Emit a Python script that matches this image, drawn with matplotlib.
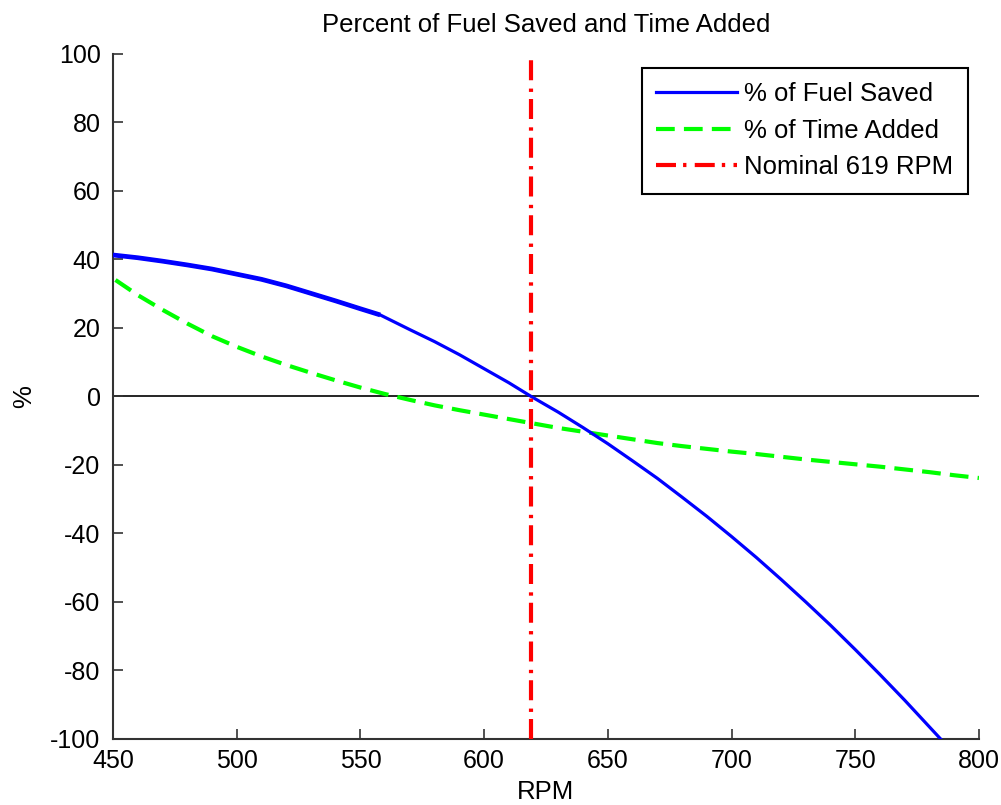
import numpy as np
import matplotlib
matplotlib.use("Agg")
import matplotlib.pyplot as plt

plt.rcParams['font.family'] = ['Liberation Sans', 'DejaVu Sans']
plt.rcParams['axes.unicode_minus'] = False

# RPM vs % of fuel saved
rpm_fuel = [450, 460, 470, 480, 490, 500, 510, 520, 530, 540, 550, 558,
            570, 580, 590, 600, 610, 619, 630, 640, 650, 660, 670, 680,
            690, 700, 710, 720, 730, 740, 750, 760, 770, 784.5]
fuel_saved = [41.3, 40.5, 39.5, 38.4, 37.2, 35.7, 34.2, 32.3, 30.1, 27.9, 25.6, 23.8,
              19.5, 16.0, 12.2, 8.1, 4.0, 0.0, -4.6, -9.1, -13.8, -18.8, -23.9, -29.4,
              -35.0, -40.9, -47.0, -53.4, -60.0, -66.8, -73.9, -81.2, -88.7, -100.0]

# RPM vs % of time added
rpm_time = [451, 460, 470, 480, 490, 500, 510, 520, 530, 540, 550, 560, 570,
            580, 590, 600, 610, 620, 630, 640, 650, 660, 670, 680, 690, 700,
            710, 720, 730, 740, 750, 760, 770, 780, 790, 800]
time_added = [34.0, 29.6, 25.3, 21.3, 17.6, 14.5, 11.7, 9.2, 6.9, 4.7, 2.6, 0.7, -1.0,
              -2.6, -4.0, -5.3, -6.6, -7.9, -9.2, -10.3, -11.4, -12.5, -13.6, -14.5, -15.3, -16.1,
              -16.8, -17.6, -18.4, -19.1, -19.8, -20.5, -21.3, -22.1, -23.0, -23.8]

nominal_rpm = 619

fig = plt.figure(figsize=(10.01, 8.05), dpi=100)
ax = fig.add_axes([0.1129, 0.082, 0.8651, 0.851])

ax.plot([450, 800], [0, 0], color='black', lw=1.2, zorder=1)
ax.plot(rpm_fuel, fuel_saved, color='#0000ff', lw=2.3, label='% of Fuel Saved', zorder=3)
# low-RPM branch is drawn heavier
k = rpm_fuel.index(558) + 1
ax.plot(rpm_fuel[:k], fuel_saved[:k], color='#0000ff', lw=3.4, zorder=3,
        solid_capstyle='butt')
ax.plot(rpm_time, time_added, color='#00ff00', lw=3, ls=(0, (4.5, 2.2)),
        label='% of Time Added', zorder=2)
ax.plot([nominal_rpm, nominal_rpm], [-100, 100], color='#ff0000', lw=3,
        ls=(0, (4.8, 1.7, 0.8, 2.0)), label='Nominal 619 RPM', zorder=4)

ax.set_xlim(450, 800)
ax.set_ylim(-100, 100)
ax.set_xticks(np.arange(450, 801, 50))
ax.set_yticks(np.arange(-100, 101, 20))
ax.tick_params(direction='in', length=7, width=1.2, labelsize=18, color='#333333')
ax.tick_params(axis='x', pad=7)
ax.tick_params(axis='y', pad=9)
ax.spines['top'].set_visible(False)
ax.spines['right'].set_visible(False)
for s in ('left', 'bottom'):
    ax.spines[s].set_linewidth(1.5)
    ax.spines[s].set_color('#333333')

ax.set_title('Percent of Fuel Saved and Time Added', fontsize=18.5, pad=16)
ax.set_xlabel('RPM', fontsize=18.5, labelpad=5)
ax.set_ylabel('%', fontsize=18.5, labelpad=10)

leg = ax.legend(loc='upper right', bbox_to_anchor=(0.987, 0.98), borderaxespad=0,
                fontsize=18.5, fancybox=False, framealpha=1, edgecolor='black',
                handlelength=3.15, handletextpad=0.3, labelspacing=0.5,
                borderpad=0.55)
leg.get_frame().set_linewidth(1.5)

fig.savefig('out.png', dpi=100)
